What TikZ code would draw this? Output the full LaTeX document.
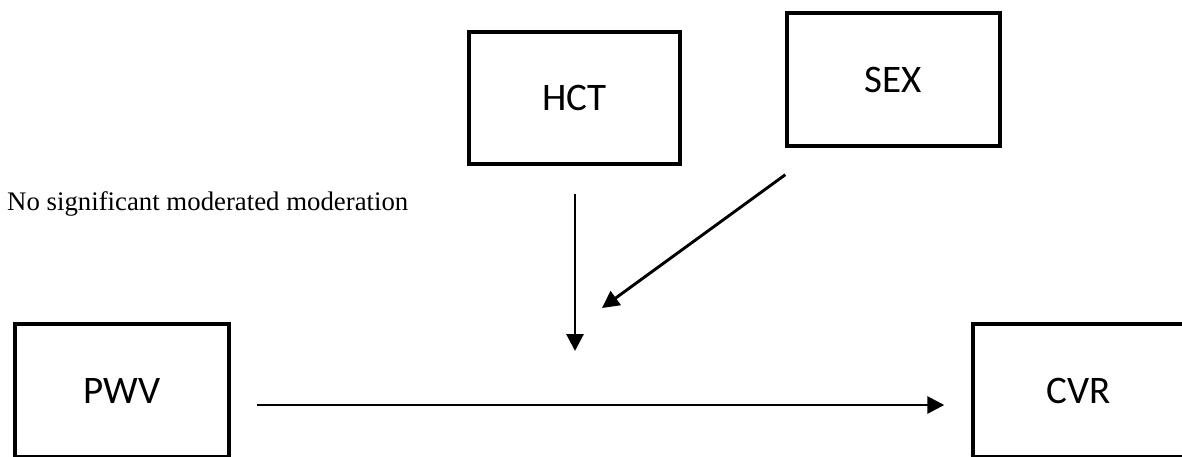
\documentclass[tikz,border=0pt]{standalone}
\usepackage{fontspec}
\setmainfont{Liberation Serif}
\newfontfamily\boxfont{Carlito}
\usetikzlibrary{arrows.meta}
\tikzset{
  varbox/.style={draw=black, line width=3.4pt, fill=white, inner sep=0pt,
    font=\boxfont\fontsize{39}{42}\selectfont},
  arr/.style={draw=black, line width=2.9pt, -{Triangle[length=17pt,width=17pt]}},
  note/.style={font=\fontsize{26.8}{30}\selectfont, inner sep=0pt, anchor=west}
}
\begin{document}
\begin{tikzpicture}[x=1pt,y=-1pt]
\useasboundingbox (0,0) rectangle (1182,456);
\clip (0,0) rectangle (1182,456);
\fill[white] (0,0) rectangle (1182,456);
\node[varbox, minimum width=214pt, minimum height=133pt] (PWV) at (122,390.5) {PWV};
\node[varbox, minimum width=212pt, minimum height=133pt] (CVR) at (1079,390.5) {CVR};
\node[varbox, minimum width=211pt, minimum height=132pt] (HCT) at (574.5,98) {HCT};
\node[varbox, minimum width=213pt, minimum height=133pt] (SEX) at (893.5,79.5) {SEX};
\node[note] (txt) at (7,204) {No significant moderated moderation};
\coordinate (vend) at (575,351);
\coordinate (dend) at (602,308);
\draw[arr] ([yshift=-28pt]HCT.south -| vend) -- (vend);
\draw[arr] ([yshift=-27pt]SEX.south west) -- (dend);
\draw[arr] ([xshift=26pt,yshift=-14.5pt]PWV.east) -- ([xshift=-27pt,yshift=-14.5pt]CVR.west);
\end{tikzpicture}
\end{document}
